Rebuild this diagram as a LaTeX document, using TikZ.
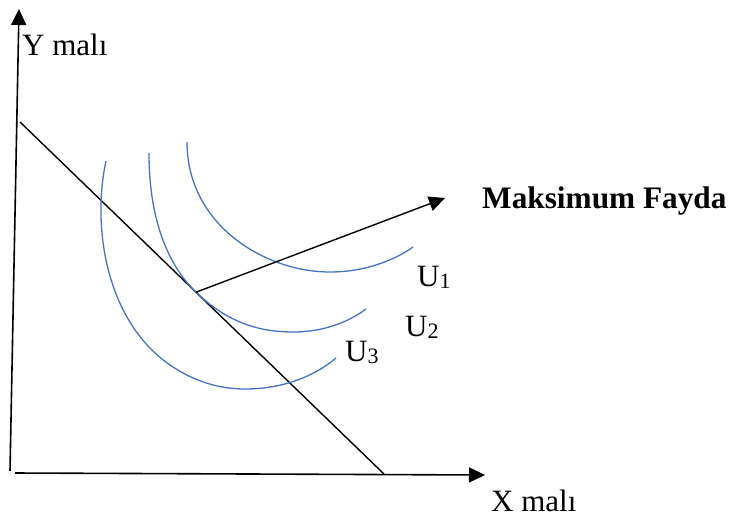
\documentclass[tikz,border=0pt]{standalone}
\usepackage{fontspec}
\setmainfont{Liberation Serif}
\usetikzlibrary{arrows.meta,calc}
\definecolor{curveblue}{HTML}{4472C4}
\newcommand{\usub}[1]{{\fontsize{22}{26}\selectfont\raisebox{-2pt}{#1}}}
\begin{document}
\begin{tikzpicture}[
        x=1pt, y=-1pt,
        axis/.style={-{Triangle[length=16pt,width=15pt]}, line width=1.6pt},
        budget/.style={line width=1.4pt},
        indiff/.style={draw=curveblue, line width=1.3pt},
        label/.style={anchor=base west, inner sep=0pt, font=\fontsize{31}{36}\selectfont}
    ]
        \useasboundingbox (0,0) rectangle (733,517);

        \coordinate (origin) at (10,471);
        \coordinate (ytop) at (19,9);
        \coordinate (xstart) at (15,473);
        \coordinate (xend) at (485,475);
        \coordinate (bstart) at (20,122);
        \coordinate (bend) at (384,474);
        \coordinate (optimum) at ($(bstart)!0.4835!(bend)$);
        \coordinate (maxend) at (445,198);

        \node[label] (ylabel) at (22,55) {Y malı};
        \node[label] (xlabel) at (491,511) {X malı};
        \node[label, font=\fontsize{31.3}{36}\selectfont\bfseries] (maxlabel) at (482,208) {Maksimum Fayda};
        \node[label] (u1) at (417,286) {U\usub{1}};
        \node[label] (u2) at (405,336) {U\usub{2}};
        \node[label] (u3) at (345,361) {U\usub{3}};

        \draw[axis] (origin) -- (ytop);
        \draw[axis] (xstart) -- (xend);
        \draw[budget] (bstart) -- (bend);

        \draw[indiff] (187,142) .. controls (187,225) and (265,272) .. (330,272) .. controls (365,272) and (395,260) .. (413,247);
        \draw[indiff] (149,153) .. controls (149,225) and (171,268) .. (optimum) .. controls (225,320) and (255,332) .. (293,332) .. controls (325,332) and (350,321) .. (366,309);
        \draw[indiff] (106,161) .. controls (92,225) and (105,320) .. (170,365) .. controls (195,382) and (220,389) .. (245,389) .. controls (283,389) and (315,376) .. (336,358);

        \draw[axis, line width=1.4pt] (optimum) -- (maxend);
    \end{tikzpicture}
\end{document}
